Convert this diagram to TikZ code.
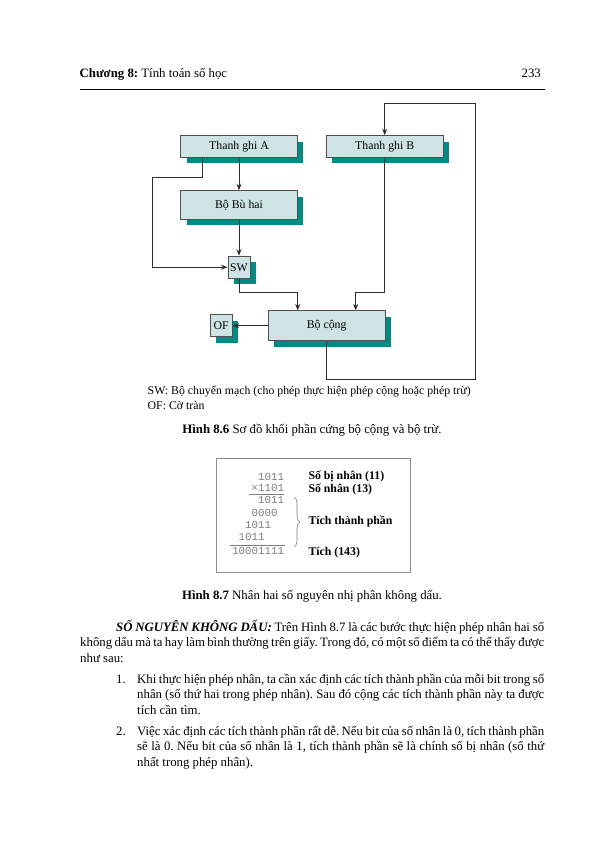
\documentclass[tikz,border=0pt]{standalone}
\usepackage{fontspec}
\setmainfont{Liberation Serif}
\setmonofont{Liberation Mono}
\usetikzlibrary{shadows,arrows.meta,decorations.pathreplacing}
\definecolor{boxfill}{RGB}{206,228,228}
\definecolor{boxline}{RGB}{80,80,80}
\definecolor{shadowteal}{RGB}{0,139,133}
\definecolor{wireline}{RGB}{45,45,45}
\definecolor{digitgray}{RGB}{125,125,125}
\definecolor{framegray}{RGB}{140,140,140}
\newcommand{\bodyfont}{\fontsize{12.8}{15.5}\selectfont\frenchspacing}
\newcommand{\blockfont}{\fontsize{11.8}{14}\selectfont}
\newcommand{\digitfont}{\fontsize{10.8}{12}\selectfont\ttfamily}
\newcommand{\fullline}[2]{\makebox[#1][s]{#2}}
\tikzset{
% Block styles for the adder: wide register box and small square box
reg node/.style={rectangle,draw=boxline,fill=boxfill,line width=0.9pt,inner sep=0,
  minimum width=116.7pt,minimum height=21.6pt,font=\blockfont,
  drop shadow={shadow xshift=6pt,shadow yshift=-6pt,fill=shadowteal,opacity=1}},
small node/.style={reg node,minimum width=22pt,minimum height=22pt},
wire/.style={draw=wireline,line width=1pt},
arrow wire/.style={wire,-{Stealth[length=6.5pt,width=5pt]}},
% Text styles: body lines and figure labels
body line/.style={anchor=base west,inner sep=0,font=\bodyfont},
digit/.style={anchor=base east,inner sep=0,font=\digitfont,text=digitgray},
tag/.style={anchor=base west,inner sep=0,font=\fontsize{11.8}{14}\selectfont\bfseries}
}

\begin{document}
\begin{tikzpicture}[x=1pt,y=-1pt]
  \useasboundingbox (0,0) rectangle (595,842);

  % page header
  \node[body line] (head) at (79.5,77.5) {\textbf{Chương 8:} Tính toán số học};
  \node[body line,anchor=base east] (pageno) at (541,77.5) {233};
  \draw[line width=1.5pt] (79.5,89.3) -- (545,89.3);

  % Figure 8.6: blocks
  \node[reg node] (ra) at (239,146.5) {Thanh ghi A};
  \node[reg node] (rb) at (384.7,146.5) {Thanh ghi B};
  \node[reg node,minimum height=28.6pt] (bu) at (239,205) {Bộ Bù hai};
  \node[small node] (sw) at (239,267.2) {SW};
  \node[reg node,minimum height=29.7pt] (add) at (326.7,325.7) {Bộ cộng};
  \node[small node,minimum height=21.7pt] (of) at (221.2,325.7) {OF};

  \coordinate (bendA) at (152.7,177.5);
  \coordinate (swbend) at (297.7,292.7);
  \coordinate (rbbend) at (355.7,292.7);
  \coordinate (fbR) at (475,379);
  \coordinate (fbT) at (384.7,103.3);

  % Figure 8.6: connections
  \draw[arrow wire] (ra.south) -- (bu.north);
  \draw[arrow wire] (bu.south) -- (sw.north);
  \draw[arrow wire] ([xshift=-37pt]ra.south) |- (bendA) |- (sw.west);
  \draw[arrow wire] (sw.south) |- (swbend) -- (swbend |- add.north);
  \draw[arrow wire] (rb.south) |- (rbbend) -- (rbbend |- add.north);
  \draw[arrow wire] (add.west) -- (of.east);
  \draw[arrow wire] (add.south) |- (fbR) |- (fbT) -- (rb.north);

  \node[anchor=base west,inner sep=0,font=\blockfont] (legsw) at (147.5,394)
    {SW: Bộ chuyển mạch (cho phép thực hiện phép cộng hoặc phép trừ)};
  \node[anchor=base west,inner sep=0,font=\blockfont] (legof) at (147.5,409.5) {OF: Cờ tràn};
  \node[body line,anchor=base] (cap86) at (312,433) {\textbf{Hình 8.6} Sơ đồ khối phần cứng bộ cộng và bộ trừ.};

  % Figure 8.7: multiplication
  \draw[framegray,line width=0.8pt] (216,458) rectangle (410.5,572.5);
  \node[digit] (mcand) at (284.3,480) {1011};
  \node[digit] (mplier) at (284.3,491.5) {×1101};
  \draw[digitgray,line width=0.7pt] (249,494.5) -- (284.3,494.5);
  \node[digit] (pp1) at (284.3,503.5) {1011};
  \node[digit] (pp2) at (277.8,516) {0000};
  \node[digit] (pp3) at (271.3,528.5) {1011};
  \node[digit] (pp4) at (264.8,540.5) {1011};
  \draw[digitgray,line width=0.7pt] (230,545) -- (285,545);
  \node[digit] (prod) at (284.3,554.5) {10001111};
  \draw[digitgray,line width=0.6pt,decorate,decoration={brace,amplitude=6pt}] (294,497) -- (294,547);
  \node[tag] (tmcand) at (308.3,479.5) {Số bị nhân (11)};
  \node[tag] (tmplier) at (308.3,492.5) {Số nhân (13)};
  \node[tag] (tpart) at (308.3,524.5) {Tích thành phần};
  \node[tag] (tprod) at (308.3,555) {Tích (143)};
  \node[body line,anchor=base] (cap87) at (312,599) {\textbf{Hình 8.7} Nhân hai số nguyên nhị phân không dấu.};

  % body text
  \node[body line] (p1) at (116,631) {\fullline{428pt}{\textbf{\textit{SỐ NGUYÊN KHÔNG DẤU:}} Trên Hình 8.7 là các bước thực hiện phép nhân hai số}};
  \node[body line] (p2) at (80,646.5) {\fullline{464pt}{không dấu mà ta hay làm bình thường trên giấy. Trong đó, có một số điểm ta có thể thấy được}};
  \node[body line] (p3) at (80,662) {như sau:};
  \node[body line] (n1) at (116,683) {1.};
  \node[body line] (i1a) at (137,683) {\fullline{407pt}{Khi thực hiện phép nhân, ta cần xác định các tích thành phần của mỗi bit trong số}};
  \node[body line] (i1b) at (137,698.5) {\fullline{407pt}{nhân (số thứ hai trong phép nhân). Sau đó cộng các tích thành phần này ta được}};
  \node[body line] (i1c) at (137,714) {tích cần tìm.};
  \node[body line] (n2) at (116,735) {2.};
  \node[body line] (i2a) at (137,735) {\fullline{407pt}{Việc xác định các tích thành phần rất dễ. Nếu bit của số nhân là 0, tích thành phần}};
  \node[body line] (i2b) at (137,750.5) {\fullline{407pt}{sẽ là 0. Nếu bit của số nhân là 1, tích thành phần sẽ là chính số bị nhân (số thứ}};
  \node[body line] (i2c) at (137,766) {nhất trong phép nhân).};
\end{tikzpicture}
\end{document}
